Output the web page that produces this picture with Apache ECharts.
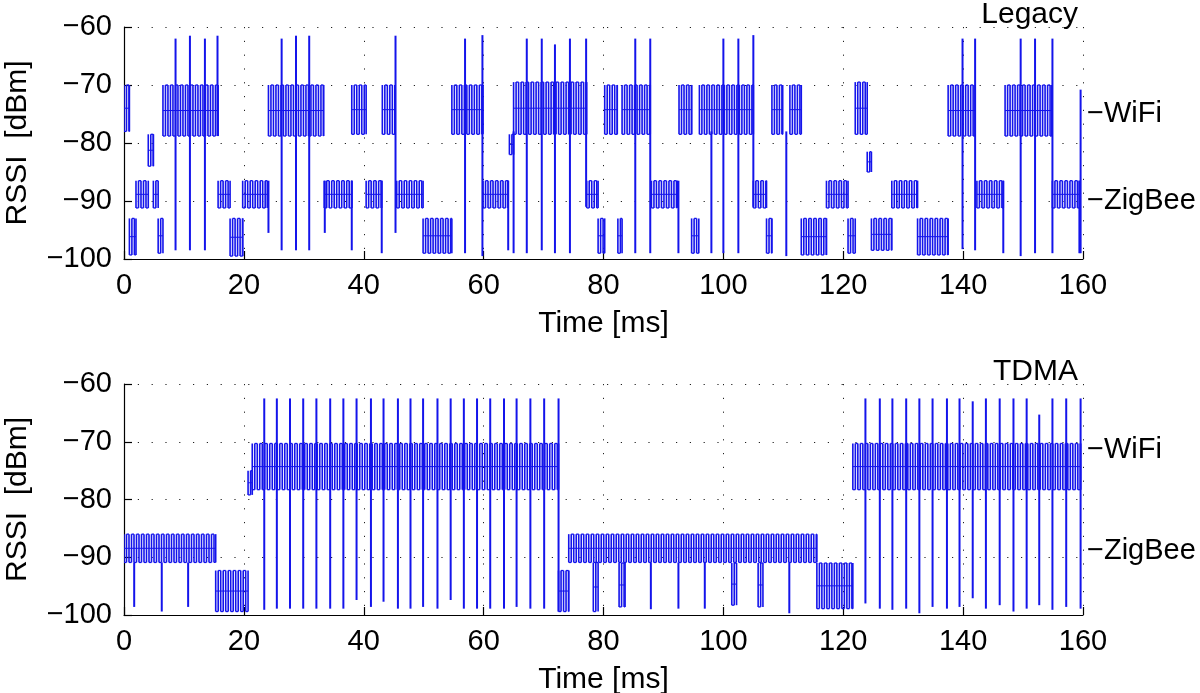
<!DOCTYPE html>
<html>
<head>
<meta charset="utf-8">
<script src="https://cdn.jsdelivr.net/npm/echarts@6/dist/echarts.min.js"></script>
<style>
html,body{margin:0;padding:0;background:#fff;}
#chart{width:1200px;height:693px;}
</style>
</head>
<body>
<div id="chart"></div>
<script>
// ---------------- DATA ----------------
const panelTitles = ['Legacy', 'TDMA'];
const xAxisName = 'Time [ms]';
const yAxisName = 'RSSI  [dBm]';
const xRange = [0, 160];
const yRange = [-100, -60];
const markerNames = ['WiFi', 'ZigBee'];
const legacyMarkerValues = [-75, -90];
const tdmaMarkerValues = [-71.5, -89];

// bands: [tStart ms, tEnd ms, upper dBm, lower dBm] of the dense oscillating trace
const legacyBands = [
  [0.0, 0.9, -70, -78], [0.9, 2.0, -93, -99.3], [2.0, 4.05, -86.5, -91.2], [4.05, 4.9, -78.5, -84],
  [4.9, 5.7, -86.5, -91.2], [5.7, 6.5, -93, -99], [6.5, 15.7, -70, -78.8], [15.7, 17.7, -86.5, -91.2],
  [17.7, 19.8, -93, -99.5], [19.8, 23.9, -86.5, -91.2], [24.1, 33.3, -70, -78.8], [33.4, 38.0, -86.5, -91.2],
  [38.0, 40.4, -70, -78.5], [40.4, 43.0, -86.5, -91.2], [43.1, 45.2, -70, -78.5], [45.5, 49.9, -86.5, -91.2],
  [49.9, 54.7, -93, -99], [54.7, 59.9, -70, -78.5], [59.9, 64.1, -86.5, -91.2], [64.3, 65.0, -78.5, -82],
  [65.0, 77.2, -69.5, -78.5], [77.2, 79.1, -86.5, -91.2], [79.1, 80.2, -93, -99], [80.2, 82.3, -70, -78.5],
  [82.4, 83.1, -93, -99], [83.1, 87.8, -70, -78.5], [88.0, 92.3, -86.5, -91.2], [92.6, 94.7, -70, -78.5],
  [94.7, 95.9, -93, -99], [96.0, 105.0, -70, -78.5], [105.0, 107.2, -86.5, -91.2], [107.2, 108.1, -93, -99],
  [108.1, 109.9, -70, -78.5], [111.1, 113.0, -70, -78.5], [113.0, 117.2, -93, -99.3], [117.2, 120.8, -86.5, -91.2],
  [120.8, 122.0, -93, -99], [122.0, 124.0, -69.5, -78.5], [124.0, 124.7, -81.5, -85], [124.7, 128.1, -93, -98.5],
  [128.1, 132.4, -86.5, -91.2], [132.4, 137.5, -93, -99.3], [137.5, 142.0, -70, -78.8], [142.3, 146.7, -86.5, -91.2],
  [147.0, 154.8, -70, -78.8], [154.9, 159.4, -86.5, -91.2]
];
// spikes: [t ms, top dBm, bottom dBm]
const legacySpikes = [
  [8.6, -62, -98.5], [11.0, -61.5, -98.5], [13.5, -62, -98.5], [15.6, -61.5, -78.8],
  [24.1, -86.5, -95.5], [26.3, -62, -98.5], [28.7, -61.5, -98.5], [30.9, -61.5, -98.5], [33.5, -86.5, -95.5],
  [38.0, -86.5, -98.5], [43.0, -86.5, -99], [45.3, -61.5, -95.5], [56.9, -62, -99], [59.8, -61.4, -99.5],
  [64.1, -86.5, -98.5], [65.0, -78, -99], [67.2, -62, -99], [69.7, -62, -98.5], [71.9, -63, -99],
  [74.4, -62, -99], [77.1, -62, -91], [85.3, -62, -99], [87.8, -62, -99], [92.5, -86.5, -99],
  [98.0, -78, -99], [100.0, -62, -99], [102.5, -62, -99], [105.0, -61.4, -91], [110.5, -78, -99.5],
  [139.9, -62, -98.3], [142.0, -62, -98.5], [146.7, -86.5, -99], [149.6, -62, -99.5], [152.0, -62, -99],
  [154.9, -62, -99], [159.4, -86.5, -99], [159.6, -70.8, -99]
];

const tdmaBands = [
  [0.0, 15.3, -86, -90.9], [15.3, 20.7, -92.3, -99.4], [20.7, 21.4, -75, -79.2], [21.4, 72.5, -70.3, -78.3],
  [72.5, 74.2, -92.3, -99.4], [74.2, 115.6, -86, -90.9], [78.3, 79.1, -90.9, -99.4], [82.6, 83.6, -91, -98.6],
  [101.4, 102.2, -91, -98.3], [105.8, 106.6, -91, -98.6], [115.6, 121.6, -91, -98.9], [121.6, 159.6, -70.3, -78.3]
];
const tdmaSpikes = [
  [1.7, -90.9, -98.6], [6.3, -90.9, -99.4], [10.7, -90.9, -98.6], [87.9, -90.9, -99], [92.5, -90.9, -98.9],
  [96.9, -90.9, -98.9], [111.0, -90.9, -99.7],
  [23.4, -62.5, -99.1], [25.5, -62.5, -98.9], [27.7, -62.5, -98.9], [29.9, -62.5, -98.9], [32.1, -62.5, -98.9],
  [34.4, -62.5, -98.9], [36.6, -62.5, -98.9], [38.8, -62.5, -97.4], [41.2, -62.5, -98.6], [43.3, -62.5, -97.7],
  [45.7, -62.5, -98.9], [47.8, -62.5, -98.9], [49.9, -62.5, -98.6], [52.3, -62.5, -98.9], [54.5, -62.5, -97.4],
  [56.7, -62.5, -98.9], [58.9, -62.5, -98.9], [61.1, -62.5, -98.9], [63.4, -62.5, -98.9], [65.5, -62.5, -98.6],
  [67.8, -62.5, -98.9], [70.1, -62.5, -98.9], [72.5, -62.5, -99.4],
  [123.7, -62.5, -98], [126.1, -62.5, -98.9], [128.2, -62.5, -99.1], [130.5, -62.5, -98.9], [132.7, -62.5, -99.7],
  [134.9, -62.5, -98.6], [137.3, -62.5, -98.9], [139.4, -62.5, -98.6], [141.6, -63, -97.1], [143.8, -62.5, -98.9],
  [146.1, -62.5, -98.3], [148.4, -62.5, -99.4], [150.6, -62.5, -98.9], [152.7, -65.3, -98.3], [154.9, -62.5, -99.1],
  [157.2, -62.5, -98.6], [159.6, -62.5, -98.9]
];

// ---------------- STYLE ----------------
const BLUE = 'rgb(20,20,235)';
const FONT = 'Liberation Sans, Arial, Helvetica, sans-serif';
const FS = 29;

function minusFmt(v) { return (v < 0 ? '\u2212' : '') + Math.abs(v); }

function bandRender(params, api) {
  const t0 = api.value(0), t1 = api.value(1), hi = api.value(2), lo = api.value(3);
  const a = api.coord([t0, hi]);
  const b = api.coord([t1, lo]);
  const yHi = a[1], yLo = b[1];
  const yMid = (yHi + yLo) / 2;
  const step = 2.5;
  const children = [];
  let x = a[0];
  let k = 0;
  while (x <= b[0] + 0.01) {
    children.push({
      type: 'line',
      shape: { x1: x, y1: yHi, x2: x, y2: yLo },
      style: { stroke: BLUE, lineWidth: 1.6 }
    });
    const nx = Math.min(x + step, b[0]);
    if (nx > x) {
      const yc = (k % 2 === 0) ? yLo : yHi;
      children.push({
        type: 'line',
        shape: { x1: x, y1: yc, x2: nx, y2: yc },
        style: { stroke: BLUE, lineWidth: 1.3 }
      });
    }
    if (nx <= x) break;
    x = nx; k++;
  }
  children.push({
    type: 'line',
    shape: { x1: a[0], y1: yMid, x2: b[0], y2: yMid },
    style: { stroke: BLUE, lineWidth: 1 }
  });
  return { type: 'group', children: children };
}

function spikeRender(params, api) {
  const a = api.coord([api.value(0), api.value(1)]);
  const b = api.coord([api.value(0), api.value(2)]);
  return {
    type: 'line',
    shape: { x1: a[0], y1: a[1], x2: b[0], y2: b[1] },
    style: { stroke: BLUE, lineWidth: 2 }
  };
}

const grids = [
  { left: 124, right: 117, top: 27, height: 232, containLabel: false, outerBoundsMode: 'none' },
  { left: 124, right: 117, top: 384, height: 231, containLabel: false, outerBoundsMode: 'none' }
];

const dotted = { color: '#222', width: 1, type: [1.2, 12.6] };

const xAxes = grids.map((g, i) => ({
  gridIndex: i, type: 'value', min: xRange[0], max: xRange[1], interval: 20,
  name: xAxisName, nameLocation: 'middle', nameGap: 50,
  nameTextStyle: { fontFamily: FONT, fontSize: 30, color: '#000' },
  axisLine: { show: true, onZero: false, lineStyle: { color: '#000', width: 1.2 } },
  axisTick: { show: true, inside: true, length: 8, lineStyle: { color: '#000', width: 1.2 } },
  axisLabel: { fontFamily: FONT, fontSize: FS, color: '#000', margin: 12 },
  splitLine: { show: true, lineStyle: dotted }
}));

const markerSets = [legacyMarkerValues, tdmaMarkerValues];
const yAxes = [];
grids.forEach((g, i) => {
  yAxes.push({
    gridIndex: i, type: 'value', min: yRange[0], max: yRange[1], interval: 10,
    name: yAxisName, nameLocation: 'middle', nameGap: 91, nameRotate: 90,
    nameTextStyle: { fontFamily: FONT, fontSize: 30, color: '#000' },
    axisLine: { show: true, lineStyle: { color: '#000', width: 1.2 } },
    axisTick: { show: true, inside: true, length: 8, lineStyle: { color: '#000', width: 1.2 } },
    axisLabel: { fontFamily: FONT, fontSize: FS, color: '#000', margin: 12, formatter: minusFmt },
    splitLine: { show: true, lineStyle: dotted }
  });
  const vals = markerSets[i];
  yAxes.push({
    gridIndex: i, type: 'value', position: 'right', min: yRange[0], max: yRange[1], interval: 0.5,
    axisLine: { show: false }, axisTick: { show: false }, splitLine: { show: false },
    axisLabel: {
      fontFamily: FONT, fontSize: FS, color: '#000', margin: 4,
      formatter: function (v) {
        for (let k = 0; k < vals.length; k++) {
          if (Math.abs(v - vals[k]) < 1e-6) return '\u2212' + markerNames[k];
        }
        return '';
      }
    }
  });
});

const series = [];
[[legacyBands, legacySpikes], [tdmaBands, tdmaSpikes]].forEach((pair, i) => {
  series.push({
    type: 'custom', xAxisIndex: i, yAxisIndex: i * 2, clip: true, silent: true,
    renderItem: bandRender, data: pair[0], encode: { x: [0, 1], y: [2, 3] }, animation: false
  });
  series.push({
    type: 'custom', xAxisIndex: i, yAxisIndex: i * 2, clip: true, silent: true,
    renderItem: spikeRender, data: pair[1], encode: { x: 0, y: [1, 2] }, animation: false
  });
});

const chart = echarts.init(document.getElementById('chart'), null, { renderer: 'canvas' });
chart.setOption({
  backgroundColor: '#fff',
  animation: false,
  title: [
    { text: panelTitles[0], right: 117, top: -5, textStyle: { fontFamily: FONT, fontSize: 30, fontWeight: 'normal', color: '#000' } },
    { text: panelTitles[1], right: 117, top: 352, textStyle: { fontFamily: FONT, fontSize: 30, fontWeight: 'normal', color: '#000' } }
  ],
  grid: grids,
  xAxis: xAxes,
  yAxis: yAxes,
  series: series
});
</script>
</body>
</html>
